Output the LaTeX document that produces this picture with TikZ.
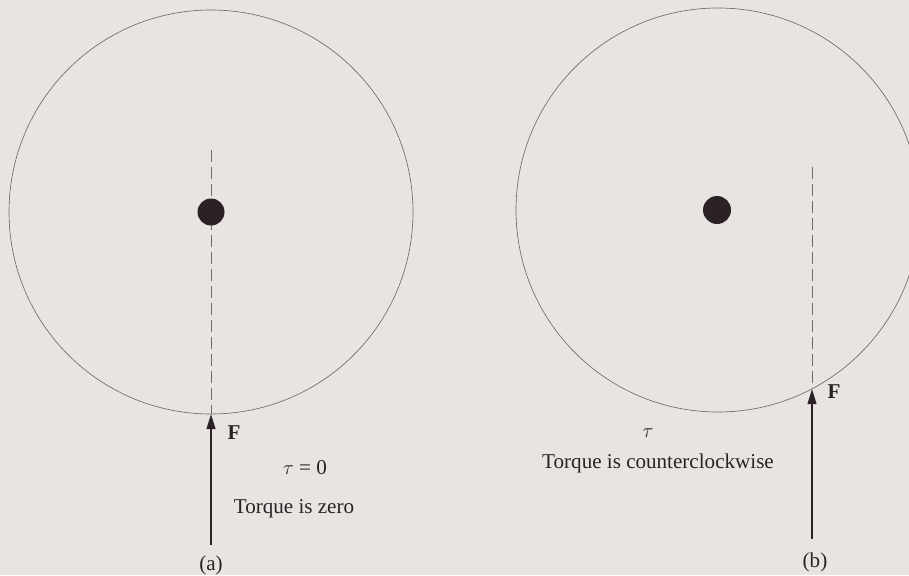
\documentclass[tikz,border=0pt]{standalone}
\usepackage{fontspec}
\setmainfont{Liberation Serif}
\usetikzlibrary{arrows.meta,calc}
\definecolor{tqpaper}{HTML}{E9E4E1}
\definecolor{tqink}{HTML}{2A2225}
\definecolor{tqrim}{HTML}{6E6A6A}

\begin{document}
\begin{tikzpicture}[
  x=0.03cm, y=0.03cm,
  every node/.style={inner sep=0pt, outer sep=0pt, text=tqink},
  rim/.style={draw=tqrim, line width=0.55pt},
  axle/.style={fill=tqink},
  guide/.style={draw=tqrim, line width=0.6pt, dash pattern=on 0.36cm off 0.15cm},
  force/.style={draw=tqink, line width=1.6pt, -{Triangle[length=0.45cm,width=0.26cm]}},
  lbl/.style={font=\fontsize{18}{21}\selectfont},
]

% paper and frame (909 x 575 px, origin bottom left)
\fill[tqpaper] (0,0) rectangle (909,575);
\clip (0,0) rectangle (909,575);

% ---------- (a) force through the axle ----------
\coordinate (cA) at (211,363);
\draw[rim] (cA) circle [radius=202];
\coordinate (topA) at (211,425);
\coordinate (hitA) at (211,161);
\coordinate (tailA) at (211,30);
\draw[guide] (topA) -- (hitA);
\fill[axle] (cA) circle [radius=13.5];
\draw[force] (tailA) -- (hitA);
\node[lbl] (fA) at (234,142) {\textbf{F}};
\node[lbl] (tauA) at (305,107) {$\tau$ = 0};
\node[lbl] (txtA) at (294,66) {Torque is zero};
\node[lbl] (capA) at (211,10) {(a)};

% ---------- (b) force off the axle ----------
\coordinate (cB) at (718,365);
\draw[rim] (cB) circle [radius=202];
\coordinate (topB) at (812,408);
\coordinate (hitB) at (812,186);
\coordinate (tailB) at (812,36);
\draw[guide] (topB) -- (hitB);
\fill[axle] (717,365) circle [radius=14];
\draw[force] (tailB) -- (hitB);
\node[lbl] (fB) at (834,183) {\textbf{F}};
\node[lbl] (tauB) at (648,142) {$\tau$};
\node[lbl] (txtB) at (658,112) {Torque is counterclockwise};
\node[lbl] (capB) at (815,13) {(b)};

\end{tikzpicture}
\end{document}
